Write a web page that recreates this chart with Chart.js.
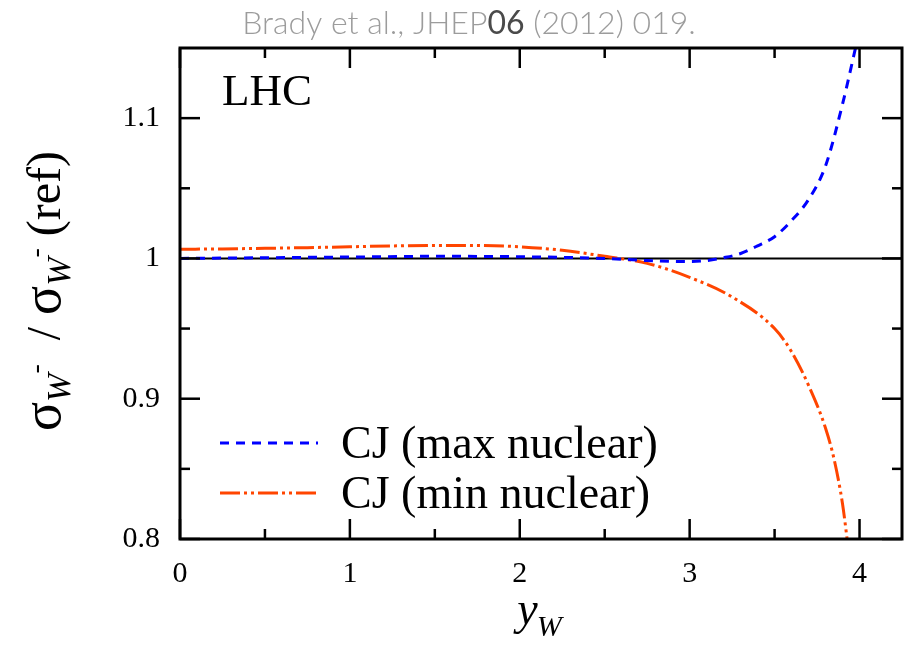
<!DOCTYPE html>
<html>
<head>
<meta charset="utf-8">
<script src="https://cdn.jsdelivr.net/npm/chart.js@4.4.1/dist/chart.umd.min.js"></script>
<style>
html,body{margin:0;padding:0;background:#fff;}
#wrap{width:911px;height:646px;position:relative;}
</style>
</head>
<body>
<div id="wrap"><canvas id="c" width="911" height="646"></canvas></div>
<script>
// ---- data ----
const xMaxNuc = [0, 0.5, 1.0, 1.5, 2.0, 2.5, 2.75, 3.0, 3.1, 3.2, 3.3, 3.4, 3.5, 3.6, 3.7, 3.8, 3.9, 3.98];
const yMaxNuc = [1.0, 1.0005, 1.001, 1.0015, 1.0012, 1.0, 0.9985, 0.9978, 0.9985, 1.0005, 1.0035, 1.009, 1.0155, 1.027, 1.042, 1.066, 1.110, 1.152];
const xMinNuc = [0, 0.25, 0.5, 0.75, 1.0, 1.25, 1.5, 1.75, 2.0, 2.25, 2.5, 2.75, 3.0, 3.25, 3.5, 3.6, 3.7, 3.8, 3.85, 3.9, 3.93];
const yMinNuc = [1.0065, 1.0068, 1.0072, 1.0077, 1.0083, 1.0089, 1.0093, 1.0092, 1.0083, 1.0058, 1.0015, 0.9965, 0.9865, 0.9725, 0.950, 0.9335, 0.9095, 0.879, 0.857, 0.825, 0.797];
const seriesLabels = ['CJ (max nuclear)', 'CJ (min nuclear)'];
const xMajorTicks = [0, 1, 2, 3, 4];
const xMinorTicks = [0.5, 1.5, 2.5, 3.5];
const yMajorTicks = [0.8, 0.9, 1.0, 1.1];
const yMinorTicks = [0.85, 0.95, 1.05];
const refLine = 1.0;
const xRange = [0, 4.25];
const yRange = [0.8, 1.15];

const BLUE = '#0000ff';
const ORANGE = '#ff4500';
const SERIF = '"Liberation Serif", "Times New Roman", serif';

const toPts = (xs, ys) => xs.map((x, i) => ({x: x, y: ys[i]}));

const decor = {
  id: 'decor',
  beforeDatasetsDraw(chart) {
    const {ctx, chartArea: a, scales: {y}} = chart;
    const py = y.getPixelForValue(refLine);
    ctx.save();
    ctx.strokeStyle = '#000';
    ctx.lineWidth = 2;
    ctx.beginPath();
    ctx.moveTo(a.left, py);
    ctx.lineTo(a.right, py);
    ctx.stroke();
    ctx.restore();
  },
  afterDraw(chart) {
    const {ctx, chartArea: a, scales: {x, y}} = chart;
    ctx.save();
    ctx.strokeStyle = '#000';
    ctx.lineWidth = 3;
    ctx.lineCap = 'butt';
    // frame
    ctx.strokeRect(a.left, a.top, a.right - a.left, a.bottom - a.top);
    // ticks (inward, mirrored)
    ctx.lineWidth = 2.5;
    const tick = (x1, y1, x2, y2) => { ctx.beginPath(); ctx.moveTo(x1, y1); ctx.lineTo(x2, y2); ctx.stroke(); };
    xMajorTicks.forEach(v => { const p = x.getPixelForValue(v); tick(p, a.bottom, p, a.bottom - 20); tick(p, a.top, p, a.top + 20); });
    xMinorTicks.forEach(v => { const p = x.getPixelForValue(v); tick(p, a.bottom, p, a.bottom - 10); tick(p, a.top, p, a.top + 10); });
    yMajorTicks.forEach(v => { const p = y.getPixelForValue(v); tick(a.left, p, a.left + 20, p); tick(a.right, p, a.right - 20, p); });
    yMinorTicks.forEach(v => { const p = y.getPixelForValue(v); tick(a.left, p, a.left + 10, p); tick(a.right, p, a.right - 10, p); });

    // LHC label
    ctx.fillStyle = '#000';
    ctx.font = '45px ' + SERIF;
    ctx.textAlign = 'left';
    ctx.textBaseline = 'alphabetic';
    ctx.fillText('LHC', a.left + 42, a.top + 57);

    // legend
    const ds = chart.data.datasets;
    const rows = [a.top + 395, a.top + 445];
    ds.forEach((d, i) => {
      ctx.save();
      ctx.strokeStyle = d.borderColor;
      ctx.lineWidth = d.borderWidth;
      ctx.setLineDash(d.borderDash);
      ctx.beginPath();
      ctx.moveTo(a.left + 40, rows[i]);
      ctx.lineTo(a.left + 138, rows[i]);
      ctx.stroke();
      ctx.restore();
      ctx.fillStyle = '#000';
      ctx.font = '46px ' + SERIF;
      ctx.fillText(d.label, a.left + 161, rows[i] + 15);
    });

    // x axis title: y_W
    ctx.fillStyle = '#000';
    ctx.font = 'italic 46px ' + SERIF;
    const yw = ctx.measureText('y').width;
    ctx.font = 'italic 30px ' + SERIF;
    const ww = ctx.measureText('W').width;
    let sx = 540 - (yw + ww) / 2;
    ctx.font = 'italic 46px ' + SERIF;
    ctx.fillText('y', sx, 624);
    ctx.font = 'italic 30px ' + SERIF;
    ctx.fillText('W', sx + yw - 1, 636);

    // y axis title (rotated)
    const parts = [
      {t: 'σ', f: '54px ' + SERIF, dy: 0},
      {t: 'W', f: 'italic 34px ' + SERIF, dy: 10},
      {t: '-', f: '28px ' + SERIF, dy: -16},
      {t: '  / ', f: '48px ' + SERIF, dy: 0},
      {t: 'σ', f: '54px ' + SERIF, dy: 0},
      {t: 'W', f: 'italic 34px ' + SERIF, dy: 10},
      {t: '-', f: '28px ' + SERIF, dy: -16},
      {t: ' (ref)', f: '48px ' + SERIF, dy: 0}
    ];
    let total = 0;
    parts.forEach(p => { ctx.font = p.f; p.w = ctx.measureText(p.t).width; total += p.w; });
    ctx.save();
    ctx.translate(60, 291);
    ctx.rotate(-Math.PI / 2);
    let cx = -total / 2;
    parts.forEach(p => { ctx.font = p.f; ctx.fillText(p.t, cx, p.dy); cx += p.w; });
    ctx.restore();

    // top citation
    const cite = [
      {t: 'Brady et al., JHEP', f: '300 32px Lato, "Open Sans", sans-serif', c: '#9c9c9c'},
      {t: '06', f: '400 32px Lato, "Open Sans", sans-serif', c: '#4a4a4a'},
      {t: ' (2012) 019.', f: '300 32px Lato, "Open Sans", sans-serif', c: '#9c9c9c'}
    ];
    let ct = 0;
    cite.forEach(p => { ctx.font = p.f; p.w = ctx.measureText(p.t).width; ct += p.w; });
    let tx = 469 - ct / 2;
    cite.forEach(p => { ctx.font = p.f; ctx.fillStyle = p.c; ctx.fillText(p.t, tx, 34); tx += p.w; });
    ctx.restore();
  }
};

new Chart(document.getElementById('c'), {
  type: 'line',
  data: {
    datasets: [
      {
        label: seriesLabels[0],
        data: toPts(xMaxNuc, yMaxNuc),
        borderColor: BLUE,
        borderWidth: 3,
        borderDash: [9, 7],
        pointRadius: 0,
        fill: false,
        cubicInterpolationMode: 'monotone'
      },
      {
        label: seriesLabels[1],
        data: toPts(xMinNuc, yMinNuc),
        borderColor: ORANGE,
        borderWidth: 3,
        borderDash: [20, 4, 3, 4, 3, 4],
        pointRadius: 0,
        fill: false,
        cubicInterpolationMode: 'monotone'
      }
    ]
  },
  options: {
    responsive: false,
    animation: false,
    devicePixelRatio: 1,
    layout: {padding: {left: 0, right: 9, top: 48, bottom: 0}},
    plugins: {legend: {display: false}, tooltip: {enabled: false}, title: {display: false}},
    scales: {
      x: {
        type: 'linear',
        min: xRange[0], max: xRange[1],
        grid: {display: false, drawTicks: false},
        border: {display: false},
        afterBuildTicks: s => { s.ticks = xMajorTicks.map(v => ({value: v})); },
        afterFit: s => { s.height = 107; },
        ticks: {
          color: '#000', padding: 17,
          font: {family: SERIF, size: 30},
          callback: v => String(v)
        }
      },
      y: {
        type: 'linear',
        min: yRange[0], max: yRange[1],
        grid: {display: false, drawTicks: false},
        border: {display: false},
        afterBuildTicks: s => { s.ticks = yMajorTicks.map(v => ({value: v})); },
        afterFit: s => { s.width = 180; },
        ticks: {
          color: '#000', padding: 20,
          font: {family: SERIF, size: 30},
          callback: v => String(Math.round(v * 100) / 100)
        }
      }
    }
  },
  plugins: [decor]
});
</script>
</body>
</html>
